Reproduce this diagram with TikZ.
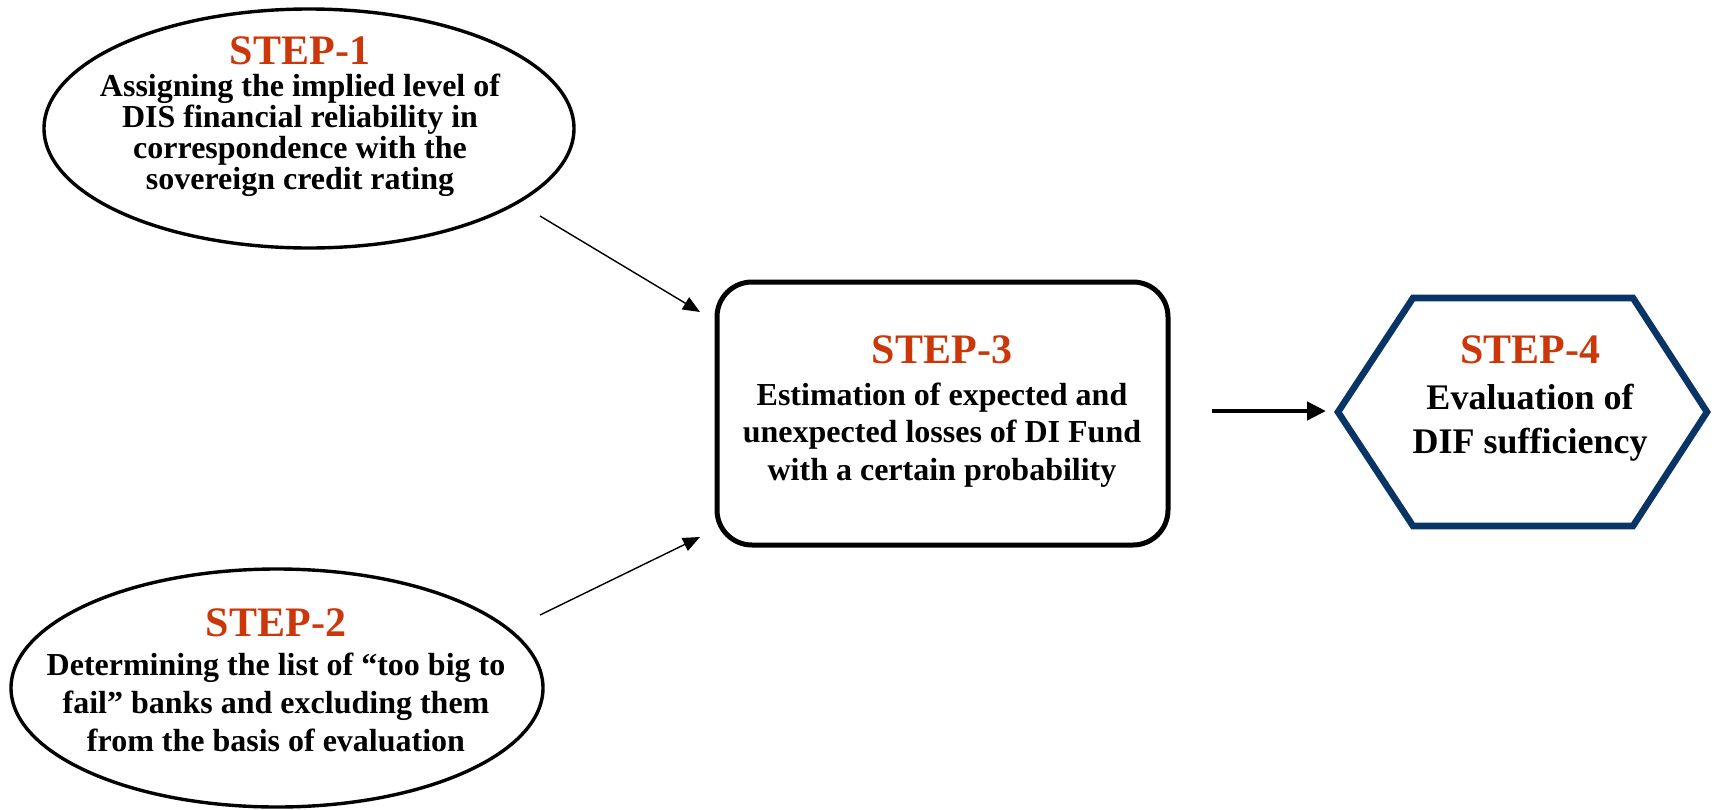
\documentclass[tikz,border=0pt]{standalone}
\usepackage{fontspec}
\setmainfont{Liberation Serif}
\usetikzlibrary{shapes.geometric,arrows.meta}
\definecolor{stepred}{RGB}{204,55,10}
\definecolor{navy}{RGB}{8,52,102}
\newcommand{\stephead}[1]{{\fontsize{21pt}{21pt}\selectfont\color{stepred}#1}}
\begin{document}
\begin{tikzpicture}[x=0.5pt,y=-0.5pt,
  oval/.style={ellipse, draw, line width=1.7pt, inner sep=0pt},
  steptext/.style={align=center, anchor=base, inner sep=0pt, font=\bfseries},
  thinarrow/.style={line width=0.7pt, -{Triangle[length=8.5pt,width=7pt]}},
  thickarrow/.style={line width=2.2pt, -{Triangle[length=9.5pt,width=9pt]}}]
\useasboundingbox (0,0) rectangle (1714,809);
% shapes
\node[oval, minimum width=265pt, minimum height=119.5pt] (e1) at (309,128.5) {};
\node[oval, minimum width=266pt, minimum height=119pt] (e2) at (277,688) {};
\node[draw, line width=2.5pt, rounded corners=17.5pt, minimum width=225.5pt, minimum height=131.5pt, inner sep=0pt] (s3) at (942.5,413.5) {};
\draw[navy, line width=3.3pt, line join=miter]
  (1338,412) coordinate (h1) -- (1413,298) -- (1633,298) -- (1707,412) -- (1633,526) -- (1413,526) -- cycle;
\node[inner sep=0pt] (s4) at (1523,412) {};
% texts (base anchor = baseline of the last line)
\node[steptext, font=\bfseries\fontsize{16pt}{15.5pt}\selectfont] (t1) at (300,189)
  {\stephead{STEP-1}\\[0.5pt]
   Assigning the implied level of\\
   DIS financial reliability in\\
   correspondence with the\\
   sovereign credit rating};
\node[steptext, font=\bfseries\fontsize{16pt}{19pt}\selectfont] (t2) at (276,751)
  {\stephead{STEP-2}\\[0.5pt]
   Determining the list of “too big to\\
   fail” banks and excluding them\\
   from the basis of evaluation};
\node[steptext, font=\bfseries\fontsize{16pt}{18.75pt}\selectfont] (t3) at (942,480)
  {\stephead{STEP-3}\\[2pt]
   Estimation of expected and\\
   unexpected losses of DI Fund\\
   with a certain probability};
\node[steptext, font=\bfseries\fontsize{18pt}{22pt}\selectfont] (t4) at (1530,453)
  {\stephead{STEP-4}\\[1pt]
   Evaluation of\\
   DIF sufficiency};
% connectors
\coordinate (a1s) at (540,216);
\coordinate (a1e) at (700,312);
\coordinate (a2s) at (540,615);
\coordinate (a2e) at (700,537);
\coordinate (a3s) at (1212,411);
\coordinate (a3e) at (1326,411);
\draw[thinarrow] (a1s) -- (a1e);
\draw[thinarrow] (a2s) -- (a2e);
\draw[thickarrow] (a3s) -- (a3e);
\end{tikzpicture}
\end{document}
